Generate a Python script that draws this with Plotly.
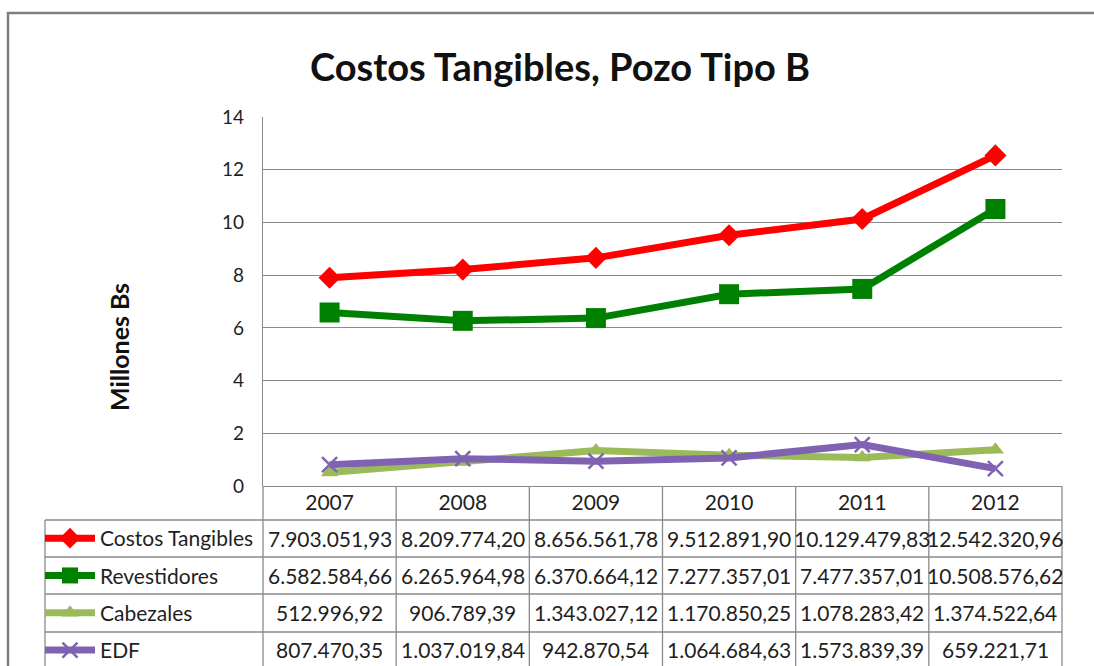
import plotly.graph_objects as go

# Years and yearly costs (Bs)
years = ["2007", "2008", "2009", "2010", "2011", "2012"]
costos_tangibles = [7903051.93, 8209774.20, 8656561.78, 9512891.90, 10129479.83, 12542320.96]
revestidores = [6582584.66, 6265964.98, 6370664.12, 7277357.01, 7477357.01, 10508576.62]
cabezales = [512996.92, 906789.39, 1343027.12, 1170850.25, 1078283.42, 1374522.64]
edf = [807470.35, 1037019.84, 942870.54, 1064684.63, 1573839.39, 659221.71]

series_names = ["Costos Tangibles", "Revestidores", "Cabezales", "EDF"]
series_values = [costos_tangibles, revestidores, cabezales, edf]
series_colors = ["#FF0000", "#008000", "#9BBB59", "#7F63B2"]
series_symbols = ["diamond", "square", "triangle-up", "x-thin"]
series_sizes = [17, 20, 15, 15]

W, H = 1094, 666
FONT = "Lato, 'Open Sans', sans-serif"
TEXT = "#1f1f1f"
GRID = "#8a8a8a"

# plot area in pixels
PX0, PX1 = 263, 1062
PY_TOP, PY_BOT = 117, 486
xdom = [PX0 / W, PX1 / W]
ydom = [1 - PY_BOT / H, 1 - PY_TOP / H]


def px_x(p):
    return p / W


def px_y(p):
    return 1 - p / H


def fmt_bs(v):
    s = f"{v:,.2f}"
    return s.replace(",", "_").replace(".", ",").replace("_", ".")


fig = go.Figure()
xs = list(range(len(years)))
for name, vals, col, sym, sz in zip(series_names, series_values, series_colors,
                                    series_symbols, series_sizes):
    marker = dict(symbol=sym, size=sz, color=col)
    if sym == "x-thin":
        marker["line"] = dict(color=col, width=2.5)
    fig.add_trace(go.Scatter(
        x=xs, y=[v / 1e6 for v in vals], name=name, mode="lines+markers",
        line=dict(color=col, width=7), marker=marker,
        legendgroup=name, cliponaxis=False,
    ))

shapes = []
# outer chart frame
shapes.append(dict(type="rect", xref="paper", yref="paper",
                   x0=px_x(8), x1=px_x(W + 20), y0=px_y(H + 20), y1=px_y(13),
                   line=dict(color="#7f7f7f", width=2.5)))

# data table grid: column boundaries follow the category slots
ncat = len(years)
col_edges = [xdom[0] + k / ncat * (xdom[1] - xdom[0]) for k in range(ncat + 1)]
table_top = PY_BOT
row_edges_px = [520, 557, 594, 632]
for xe in col_edges:
    shapes.append(dict(type="line", xref="paper", yref="paper",
                       x0=xe, x1=xe, y0=px_y(table_top), y1=px_y(H + 5),
                       line=dict(color=GRID, width=1.3)))
shapes.append(dict(type="line", xref="paper", yref="paper",
                   x0=px_x(45), x1=px_x(45), y0=px_y(row_edges_px[0]), y1=px_y(H + 5),
                   line=dict(color=GRID, width=1.3)))
for ry in row_edges_px:
    shapes.append(dict(type="line", xref="paper", yref="paper",
                       x0=px_x(45), x1=xdom[1], y0=px_y(ry), y1=px_y(ry),
                       line=dict(color=GRID, width=1.3)))

annotations = []
row_centers_px = [538, 575, 612.5, 649.5]
for vals, rc in zip(series_values, row_centers_px):
    for i, v in enumerate(vals):
        annotations.append(dict(x=i, y=px_y(rc), xref="x", yref="paper",
                                text=fmt_bs(v), showarrow=False,
                                font=dict(family=FONT, size=21, color=TEXT),
                                xanchor="center", yanchor="middle"))

annotations.append(dict(x=px_x(560), y=px_y(66), xref="paper", yref="paper",
                        text="<b>Costos Tangibles, Pozo Tipo B</b>", showarrow=False,
                        font=dict(family=FONT, size=38, color="#111111"),
                        xanchor="center", yanchor="middle"))
annotations.append(dict(x=px_x(119), y=px_y(347), xref="paper", yref="paper",
                        text="<b>Millones Bs</b>", showarrow=False, textangle=-90,
                        font=dict(family=FONT, size=25, color="#111111"),
                        xanchor="center", yanchor="middle"))

fig.update_layout(
    width=W, height=H,
    margin=dict(l=0, r=0, t=0, b=0, autoexpand=False),
    paper_bgcolor="white", plot_bgcolor="white",
    font=dict(family=FONT, color=TEXT),
    showlegend=True,
    legend=dict(x=px_x(40), y=px_y(518), xanchor="left", yanchor="top",
                bgcolor="rgba(0,0,0,0)", font=dict(family=FONT, size=21, color=TEXT),
                itemwidth=50, tracegroupgap=7, traceorder="grouped",
                borderwidth=0),
    xaxis=dict(domain=xdom, range=[-0.5, ncat - 0.5], tickvals=xs, ticktext=years,
               showgrid=False, zeroline=False, showline=False, ticks="",
               tickfont=dict(family=FONT, size=21, color=TEXT), ticklabelstandoff=2,
               fixedrange=True),
    yaxis=dict(domain=ydom, range=[0, 14], dtick=2, tick0=0,
               showgrid=True, gridcolor=GRID, gridwidth=1.3,
               zeroline=True, zerolinecolor=GRID, zerolinewidth=1.3,
               showline=True, linecolor=GRID, linewidth=1.3, ticks="",
               tickfont=dict(family=FONT, size=19, color=TEXT), ticklabelstandoff=14,
               fixedrange=True),
    shapes=shapes,
    annotations=annotations,
)

fig.write_html("out.html")
